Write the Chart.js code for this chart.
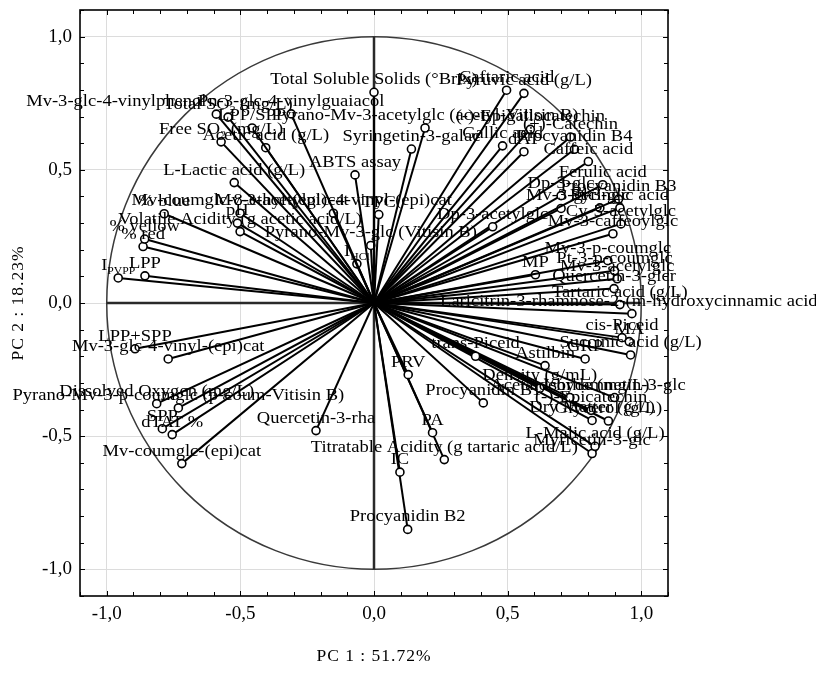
<!DOCTYPE html>
<html>
<head>
<meta charset="utf-8">
<script src="https://cdn.jsdelivr.net/npm/chart.js@4/dist/chart.umd.min.js"></script>
<style>
  html, body { margin: 0; padding: 0; background: #fff; }
  canvas { display: block; }
</style>
</head>
<body>
<canvas id="pca" width="816" height="684"></canvas>
<script>
// Variable names (labels drawn at the tip of each loading vector)
const variables = [
  "Mv-3-glc-4-vinylphenol", "Pn-3-glc-4-vinylguaiacol", "Total SO_{2} (mg/L)", "LPP/SPP",
  "Free SO_{2} (mg/L)", "Acetic acid (g/L)", "L-Lactic acid (g/L)", "ABTS assay",
  "Total Soluble Solids (°Brix)", "% blue", "Mv-coumglc-8-ethyl-(epi)cat", "Mv-3-acetylglc-4-vinyl-(epi)cat",
  "pH", "Volatile Acidity (g acetic acid/L)", "% yellow", "% red",
  "I_{PVPP}", "LPP", "I_{HCl}", "Pyrano-Mv-3-glc (Vitisin B)",
  "TPC", "Syringetin-3-galac", "Pyrano-Mv-3-acetylglc (acetyl-Vitisin B)", "Dp-3-acetylglc",
  "Caftaric acid", "Pyruvic acid (g/L)", "Gallic acid", "dAT",
  "(-)-Epigallocatechin", "(+)-Catechin", "Procyanidin B4", "Caffeic acid",
  "Ferulic acid", "Dp-3-glc", "Procyanidin B3", "Mv-3-glc",
  "Pt-3-glc", "Syringic acid", "Cy-3-acetylglc", "Mv-3-caffeoylglc",
  "Mv-3-p-coumglc", "Pt-3-p-coumglc", "MP", "Mv-3-acetylglc",
  "Quercetin-3-glcr", "Tartaric acid (g/L)", "Laricitrin-3-rhamnose-2-(m-hydroxycinnamic acid)", "cis-Piceid",
  "MA", "trans-Piceid", "GRP", "Succinic acid (g/L)",
  "Astilbin", "Density (g/mL)", "Acetaldehyde (mg/L)", "Isorhamnetin-3-glc",
  "(-)-Epicatechin", "Dry Matter (g/L)", "Glycerol (g/L)", "L-Malic acid (g/L)",
  "Myricetin-3-glc", "Procyanidin B1", "PRV", "PA",
  "Titratable Acidity (g tartaric acid/L)", "IC", "Procyanidin B2", "Quercetin-3-rha",
  "LPP+SPP", "Mv-3-glc-4-vinyl-(epi)cat", "Dissolved Oxygen (mg/L)", "Pyrano-Mv-3-p-coumglc (p-coum-Vitisin B)",
  "SPP", "dTAT %", "Mv-coumglc-(epi)cat"
];

// Loadings on the first principal component
const pc1 = [
  -0.590, -0.310, -0.546, -0.456,
  -0.572, -0.405, -0.523, -0.071,
   0.000, -0.785, -0.501, -0.152,
  -0.511, -0.501, -0.858, -0.864,
  -0.957, -0.857, -0.064, -0.012,
   0.018,  0.140,  0.191,  0.444,
   0.496,  0.561,  0.481,  0.561,
   0.585,  0.735,  0.750,  0.802,
   0.856,  0.700,  0.915,  0.700,
   0.845,  0.920,  0.924,  0.894,
   0.875,  0.900,  0.604,  0.910,
   0.898,  0.920,  0.965,  0.928,
   0.955,  0.380,  0.790,  0.960,
   0.640,  0.620,  0.733,  0.900,
   0.812,  0.816,  0.877,  0.827,
   0.816,  0.409,  0.128,  0.219,
   0.263,  0.097,  0.126, -0.217,
  -0.894, -0.770, -0.813, -0.732,
  -0.792, -0.755, -0.719
];

// Loadings on the second principal component
const pc2 = [
   0.709,  0.710,  0.698,  0.657,
   0.605,  0.583,  0.452,  0.481,
   0.791,  0.335,  0.337,  0.337,
   0.300,  0.268,  0.240,  0.212,
   0.094,  0.102,  0.147,  0.216,
   0.332,  0.578,  0.657,  0.286,
   0.799,  0.787,  0.590,  0.568,
   0.652,  0.623,  0.577,  0.531,
   0.444,  0.403,  0.390,  0.355,
   0.357,  0.357,  0.297,  0.260,
   0.159,  0.121,  0.106,  0.091,
   0.054, -0.006, -0.040, -0.130,
  -0.145, -0.200, -0.210, -0.195,
  -0.235, -0.320, -0.355, -0.355,
  -0.403, -0.441, -0.443, -0.538,
  -0.565, -0.375, -0.269, -0.487,
  -0.588, -0.635, -0.850, -0.479,
  -0.172, -0.210, -0.378, -0.394,
  -0.472, -0.494, -0.603
];

// Axis ticks
const tickValues = [-1.0, -0.5, 0.0, 0.5, 1.0];
const tickLabels = ["-1,0", "-0,5", "0,0", "0,5", "1,0"];
const xTitle = "PC 1 : 51.72%";
const yTitle = "PC 2 : 18.23%";

// ---- presentation ----
const SERIF = "'Liberation Serif', 'Times New Roman', serif";
const LABEL_PX = 17.5;
const STRETCH = 1.06;           // slightly wide lettering
const labelNudge = { "Mv-3-glc-4-vinylphenol": -100 };

// Split "I_{PVPP}" style text into normal / subscript runs
function parseRich(s) {
  const out = [];
  const re = /_\{([^}]*)\}/g;
  let last = 0, m;
  while ((m = re.exec(s)) !== null) {
    if (m.index > last) out.push({ t: s.slice(last, m.index), sub: false });
    out.push({ t: m[1], sub: true });
    last = re.lastIndex;
  }
  if (last < s.length) out.push({ t: s.slice(last), sub: false });
  return out;
}

function drawRich(ctx, s, cx, baseY) {
  const runs = parseRich(s);
  const mainFont = LABEL_PX + "px " + SERIF;
  const subFont = Math.round(LABEL_PX * 0.65) + "px " + SERIF;
  let w = 0;
  runs.forEach(r => { ctx.font = r.sub ? subFont : mainFont; r.w = ctx.measureText(r.t).width * STRETCH; w += r.w; });
  let x = cx - w / 2;
  runs.forEach(r => {
    ctx.font = r.sub ? subFont : mainFont;
    ctx.save();
    ctx.translate(x, r.sub ? baseY + 4 : baseY);
    ctx.scale(STRETCH, 1);
    ctx.fillText(r.t, 0, 0);
    ctx.restore();
    x += r.w;
  });
}

// Unit circle and the two reference axes through the origin
const circlePlugin = {
  id: 'unitCircle',
  beforeDatasetsDraw(chart) {
    const { ctx, scales: { x, y } } = chart;
    const cx = x.getPixelForValue(0), cy = y.getPixelForValue(0);
    const rx = x.getPixelForValue(1) - cx, ry = cy - y.getPixelForValue(1);
    ctx.save();
    ctx.strokeStyle = '#3a3a3a';
    ctx.lineWidth = 1.5;
    ctx.beginPath();
    ctx.ellipse(cx, cy, rx, ry, 0, 0, Math.PI * 2);
    ctx.stroke();
    ctx.strokeStyle = '#2a2a2a';
    ctx.lineWidth = 2.5;
    ctx.beginPath();
    ctx.moveTo(x.getPixelForValue(-1), cy);
    ctx.lineTo(x.getPixelForValue(1), cy);
    ctx.moveTo(cx, y.getPixelForValue(1));
    ctx.lineTo(cx, y.getPixelForValue(-1));
    ctx.stroke();
    ctx.restore();
  }
};

// Variable names at the vector tips
const labelPlugin = {
  id: 'vectorLabels',
  afterDatasetsDraw(chart) {
    const { ctx, scales: { x, y } } = chart;
    ctx.save();
    ctx.fillStyle = '#000';
    ctx.textAlign = 'left';
    ctx.textBaseline = 'alphabetic';
    variables.forEach((name, i) => {
      const px = x.getPixelForValue(pc1[i]) + (labelNudge[name] || 0);
      const py = y.getPixelForValue(pc2[i]) - 8;
      drawRich(ctx, name, px, py);
    });
    ctx.restore();
  }
};

// Plot frame with small inward ticks every 0.1, plus axis titles
const framePlugin = {
  id: 'frame',
  afterDraw(chart) {
    const { ctx, chartArea: a, scales: { x, y } } = chart;
    ctx.save();
    ctx.strokeStyle = '#000';
    ctx.lineWidth = 1.6;
    ctx.strokeRect(a.left, a.top, a.right - a.left, a.bottom - a.top);
    ctx.lineWidth = 1;
    ctx.beginPath();
    for (let k = -11; k <= 11; k++) {
      const v = k / 10;
      const len = (k % 5 === 0) ? 5 : 4;
      const px = Math.round(x.getPixelForValue(v)) + 0.5;
      ctx.moveTo(px, a.bottom); ctx.lineTo(px, a.bottom - len);
      ctx.moveTo(px, a.top); ctx.lineTo(px, a.top + len);
      const py = Math.round(y.getPixelForValue(v)) + 0.5;
      ctx.moveTo(a.left, py); ctx.lineTo(a.left + len, py);
      ctx.moveTo(a.right, py); ctx.lineTo(a.right - len, py);
    }
    ctx.stroke();

    ctx.fillStyle = '#000';
    ctx.font = "17.5px " + SERIF;
    ctx.letterSpacing = '1px';
    ctx.textAlign = 'center';
    ctx.textBaseline = 'middle';
    ctx.fillText(xTitle, x.getPixelForValue(0), 656);
    ctx.translate(18, (a.top + a.bottom) / 2);
    ctx.rotate(-Math.PI / 2);
    ctx.fillText(yTitle, 0, 0);
    ctx.restore();
  }
};

const datasets = variables.map((name, i) => ({
  label: name,
  data: [{ x: 0, y: 0 }, { x: pc1[i], y: pc2[i] }],
  showLine: true,
  borderColor: '#000',
  borderWidth: 2,
  pointRadius: [0, 4],
  pointBorderWidth: 1.6,
  pointBorderColor: '#000',
  pointBackgroundColor: '#fff'
}));

const tickFont = { family: SERIF, size: 19 };

new Chart(document.getElementById('pca'), {
  type: 'scatter',
  data: { datasets },
  options: {
    responsive: false,
    animation: false,
    events: [],
    layout: { padding: { left: 0, right: 148, top: 10, bottom: 0 } },
    plugins: { legend: { display: false }, tooltip: { enabled: false } },
    scales: {
      x: {
        type: 'linear', min: -1.1, max: 1.1,
        afterBuildTicks: s => { s.ticks = tickValues.map(v => ({ value: v })); },
        afterFit: s => { s.height = 88; s.paddingLeft = 0; s.paddingRight = 0; },
        ticks: { callback: (v, i) => tickLabels[i], font: tickFont, color: '#000', padding: 7 },
        grid: { color: '#dcdcdc', lineWidth: 1, drawTicks: false },
        border: { display: false }
      },
      y: {
        type: 'linear', min: -1.1, max: 1.1,
        afterBuildTicks: s => { s.ticks = tickValues.map(v => ({ value: v })); },
        afterFit: s => { s.width = 80; s.paddingTop = 0; s.paddingBottom = 0; },
        ticks: { callback: (v, i) => tickLabels[i], font: tickFont, color: '#000', padding: 8 },
        grid: { color: '#dcdcdc', lineWidth: 1, drawTicks: false },
        border: { display: false }
      }
    }
  },
  plugins: [circlePlugin, labelPlugin, framePlugin]
});
</script>
</body>
</html>
